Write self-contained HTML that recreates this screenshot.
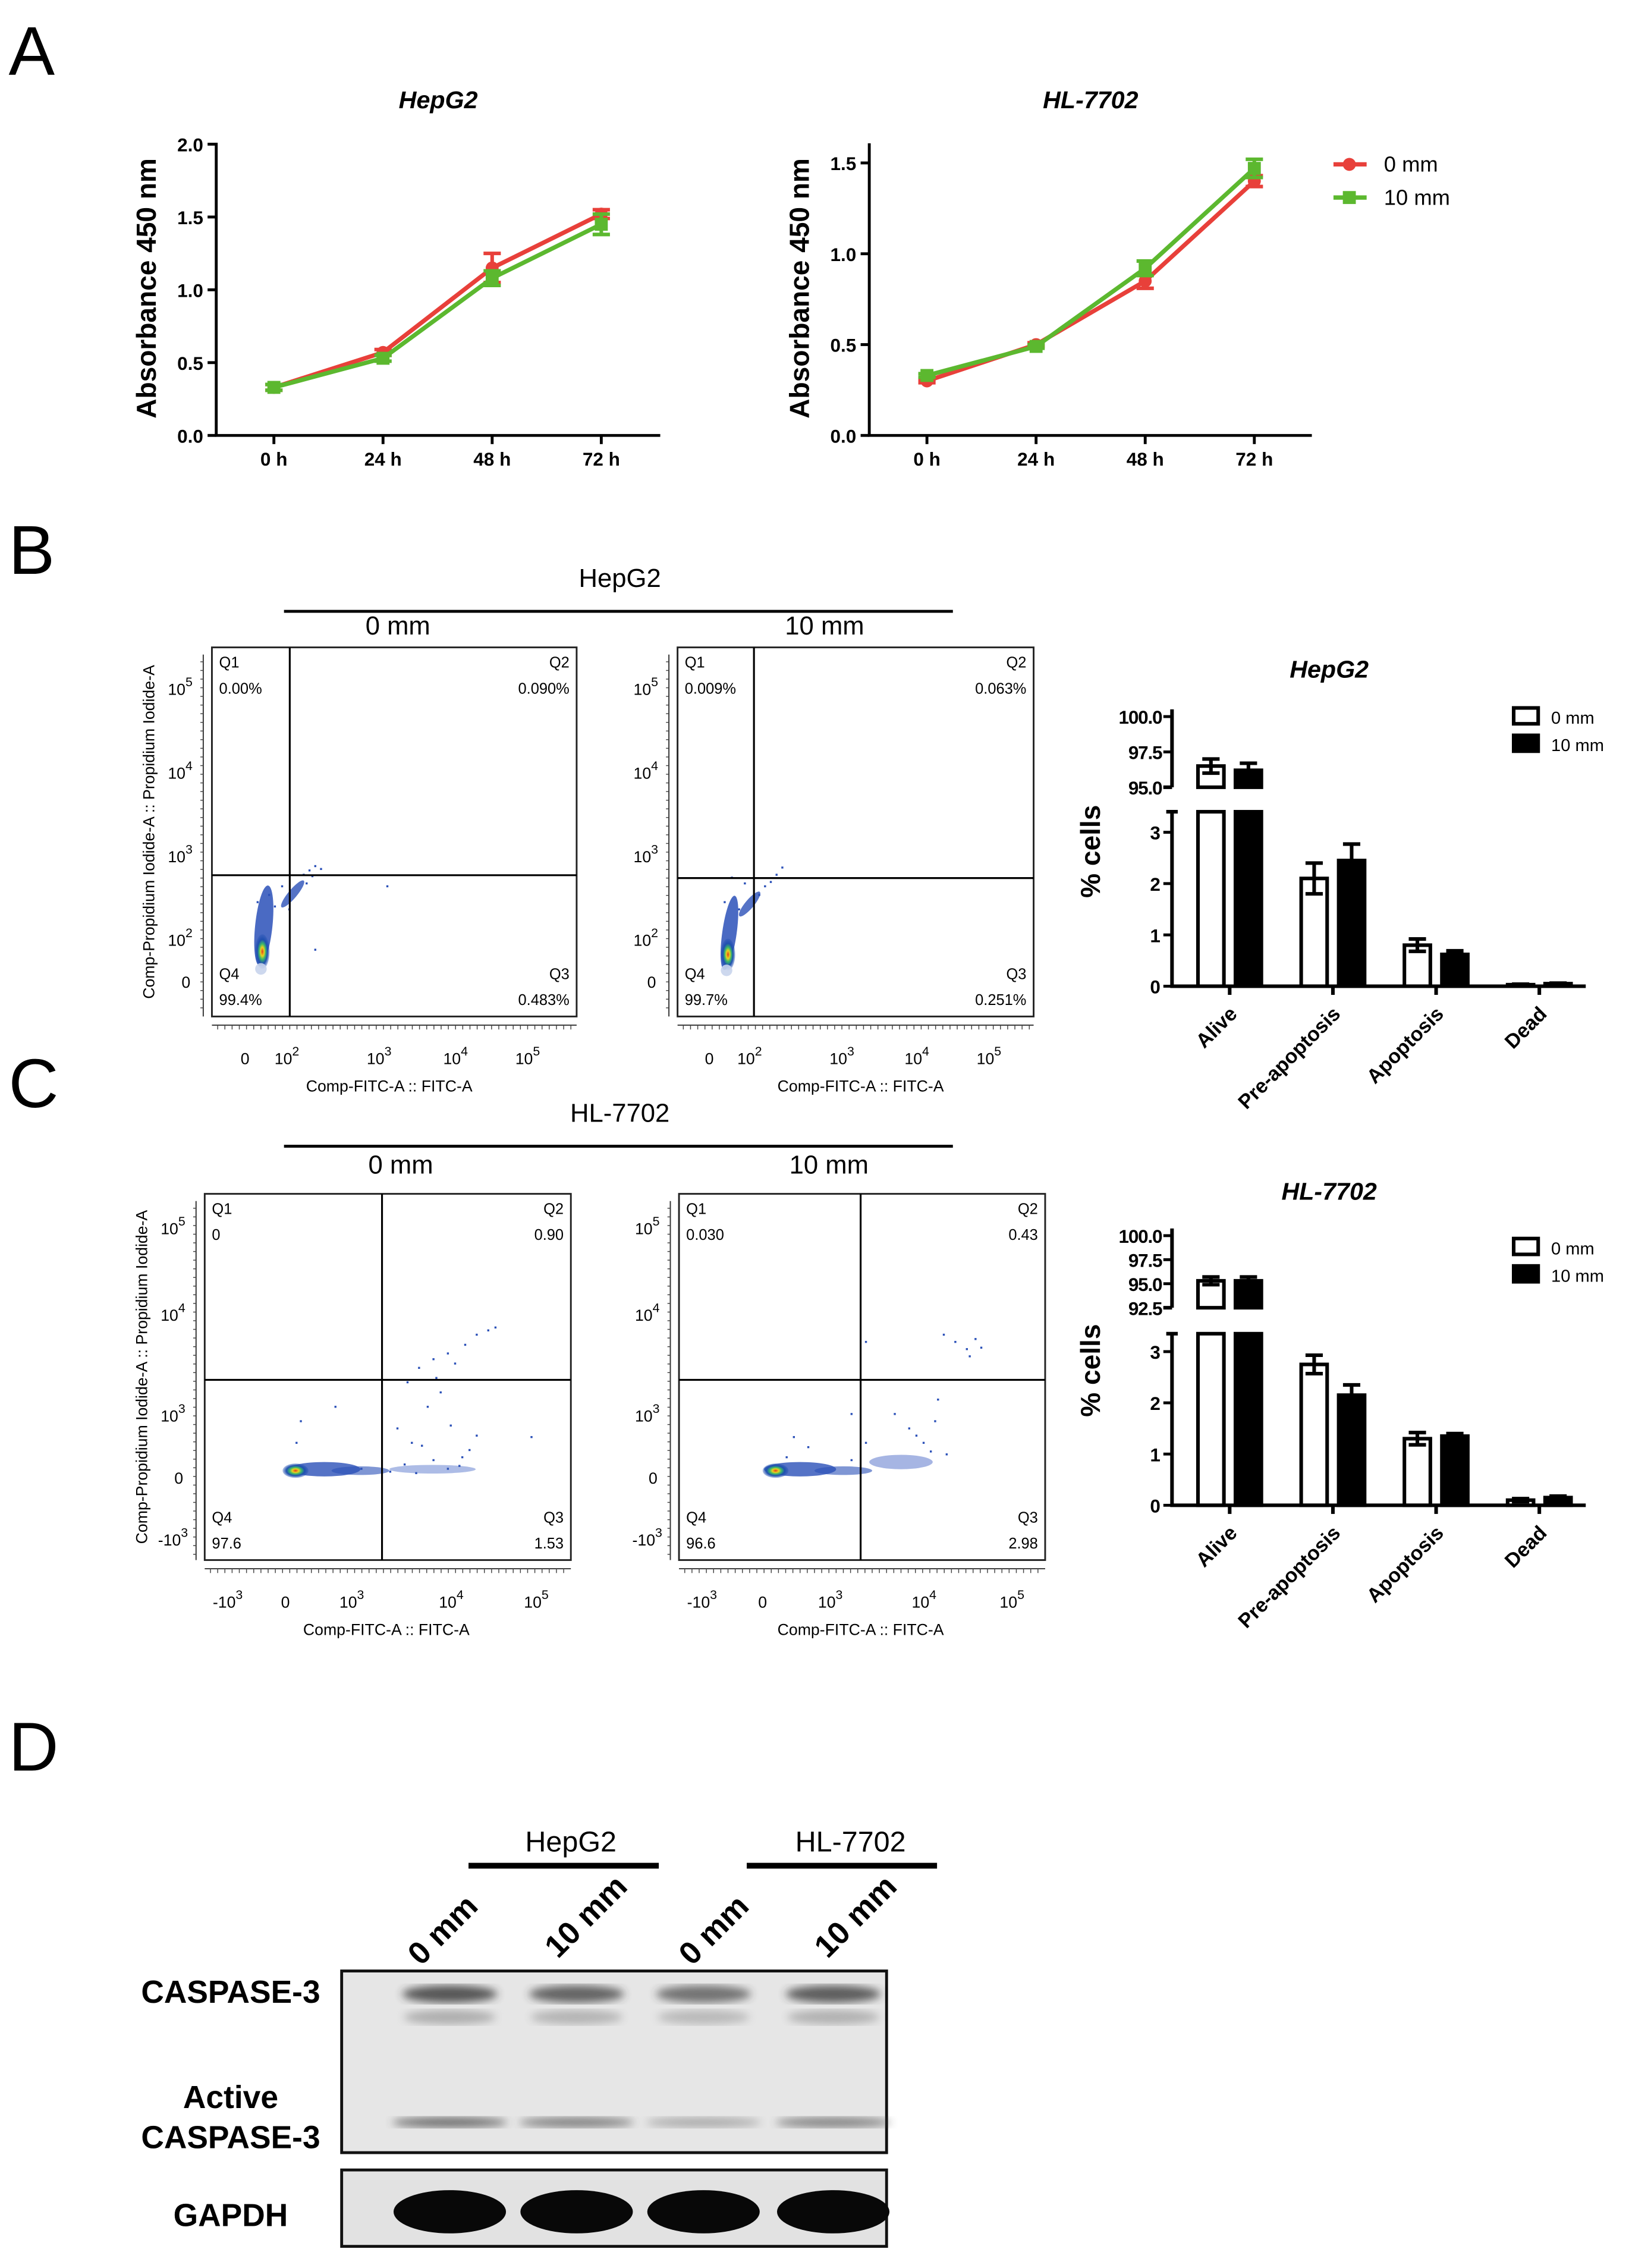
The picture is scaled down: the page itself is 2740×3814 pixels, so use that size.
<!DOCTYPE html>
<html><head><meta charset="utf-8">
<style>
html,body{margin:0;padding:0;background:#fff;}
svg{display:block;font-family:"Liberation Sans",Arial,sans-serif;}
</style></head>
<body>
<svg id="fig" width="2740" height="3814" viewBox="0 0 1130 1573" preserveAspectRatio="none" xmlns="http://www.w3.org/2000/svg">
<defs>
<radialGradient id="blob" cx="50%" cy="50%" r="50%">
<stop offset="0%" stop-color="#e23b1c"/><stop offset="25%" stop-color="#e8d21e"/><stop offset="45%" stop-color="#3bb86a"/><stop offset="70%" stop-color="#1f4fb0"/><stop offset="100%" stop-color="#1f4fb0" stop-opacity="0.3"/>
</radialGradient>
<filter id="blur"><feGaussianBlur stdDeviation="3"/></filter>
</defs>
<text x="6" y="52" font-size="48">A</text>
<text x="6" y="398" font-size="48">B</text>
<text x="6" y="768" font-size="48">C</text>
<text x="6" y="1228" font-size="48">D</text>
<g id="gA"></g>
<g id="gB"></g>
<g id="gC"></g>
<g id="gBar"></g>
<g id="gD"></g>
</svg>
<script>
// ---------- data ----------
const timeLabels = ["0 h","24 h","48 h","72 h"];
const hepRed = [0.33,0.57,1.15,1.52];
const hepRedErr = [0.02,0.02,0.10,0.03];
const hepGreen = [0.33,0.53,1.08,1.45];
const hepGreenErr = [0.02,0.02,0.05,0.07];
const hlRed = [0.30,0.50,0.85,1.40];
const hlRedErr = [0.01,0.01,0.04,0.03];
const hlGreen = [0.33,0.49,0.92,1.47];
const hlGreenErr = [0.01,0.01,0.04,0.05];
const hepTicks = [0,0.5,1.0,1.5,2.0];
const hlTicks = [0,0.5,1.0,1.5];

const barCats = ["Alive","Pre-apoptosis","Apoptosis","Dead"];
const hepBar0 = [96.5,2.1,0.8,0.03];
const hepBar0Err = [0.5,0.3,0.12,0.01];
const hepBar10 = [96.2,2.45,0.62,0.05];
const hepBar10Err = [0.5,0.32,0.07,0.01];
const hlBar0 = [95.3,2.75,1.3,0.1];
const hlBar0Err = [0.4,0.18,0.12,0.03];
const hlBar10 = [95.3,2.15,1.35,0.15];
const hlBar10Err = [0.4,0.2,0.05,0.03];

const flowQuadB0 = ["0.00%","0.090%","0.483%","99.4%"];
const flowQuadB10 = ["0.009%","0.063%","0.251%","99.7%"];
const flowQuadC0 = ["0","0.90","1.53","97.6"];
const flowQuadC10 = ["0.030","0.43","2.98","96.6"];

const NS="http://www.w3.org/2000/svg";
function mk(parent,tag,attrs,text){const e=document.createElementNS(NS,tag);for(const k in attrs)e.setAttribute(k,attrs[k]);if(text!==undefined)e.textContent=text;parent.appendChild(e);return e;}

// ---------- Panel A ----------
function lineChart(g,cfg){
  const {x0,x1,y0,yTop,vmax,axTop,cats,ticks,series,title,name}=cfg;
  const ys=v=>y0-(v/vmax)*(y0-yTop);
  const xs=i=>x0+40+i*75.7;
  let t=mk(g,'text',{x:(x0+x1)/2,y:75,'font-size':17,'font-weight':'bold','font-style':'italic','text-anchor':'middle'},title);
  
  
  let ax=mk(g,'path',{d:`M${x0},${ys(axTop)-1}V${y0}H${x1}`,stroke:'#000','stroke-width':2,fill:'none'});
  
  
  ticks.forEach(v=>{
    mk(g,'line',{x1:x0-6,x2:x0,y1:ys(v),y2:ys(v),stroke:'#000','stroke-width':2});
    let tl=mk(g,'text',{x:x0-9,y:ys(v)+5,'font-size':13,'font-weight':'bold','text-anchor':'end'},v.toFixed(1));
    
    
  });
  cats.forEach((c,i)=>{
    mk(g,'line',{x1:xs(i),x2:xs(i),y1:y0,y2:y0+6,stroke:'#000','stroke-width':2});
    let tl=mk(g,'text',{x:xs(i),y:y0+21,'font-size':13,'font-weight':'bold','text-anchor':'middle'},c);
    
    
  });
  let yl=mk(g,'text',{x:0,y:0,'font-size':19,'font-weight':'bold','text-anchor':'middle',transform:`translate(${x0-42},200) rotate(-90)`},'Absorbance 450 nm');
  
  
  series.forEach(s=>{
    const sg=mk(g,'g',{});
    
    
    mk(sg,'polyline',{points:s.vals.map((v,i)=>xs(i)+','+ys(v)).join(' '),fill:'none',stroke:s.color,'stroke-width':3});
    s.vals.forEach((v,i)=>{
      const e=s.err[i];
      mk(sg,'path',{d:`M${xs(i)},${ys(v+e)}V${ys(v-e)}M${xs(i)-6},${ys(v+e)}H${xs(i)+6}M${xs(i)-6},${ys(v-e)}H${xs(i)+6}`,stroke:s.color,'stroke-width':2.5,fill:'none'});
      let m = s.shape==='circle'? mk(sg,'circle',{cx:xs(i),cy:ys(v),r:4.5,fill:s.color}) : mk(sg,'rect',{x:xs(i)-4.5,y:ys(v)-4.5,width:9,height:9,fill:s.color});
      
      
    });
  });
}
const gA=document.getElementById('gA');
lineChart(gA,{x0:150,x1:458,y0:302,yTop:100,vmax:2.0,axTop:2.0,cats:timeLabels,ticks:hepTicks,title:'HepG2',name:'hepg2-growth',
  series:[{key:'0mm',vals:hepRed,err:hepRedErr,color:'#e8403a',shape:'circle'},{key:'10mm',vals:hepGreen,err:hepGreenErr,color:'#5cb82f',shape:'square'}]});
lineChart(gA,{x0:603,x1:910,y0:302,yTop:113,vmax:1.5,axTop:1.6,cats:timeLabels,ticks:hlTicks,title:'HL-7702',name:'hl7702-growth',
  series:[{key:'0mm',vals:hlRed,err:hlRedErr,color:'#e8403a',shape:'circle'},{key:'10mm',vals:hlGreen,err:hlGreenErr,color:'#5cb82f',shape:'square'}]});
[['0 mm','#e8403a','circle',114],['10 mm','#5cb82f','square',137]].forEach(l=>{
  const lg=mk(gA,'g',{});
  
  
  mk(lg,'line',{x1:925,x2:948,y1:l[3],y2:l[3],stroke:l[1],'stroke-width':3});
  if(l[2]==='circle')mk(lg,'circle',{cx:936,cy:l[3],r:4.5,fill:l[1]});else mk(lg,'rect',{x:931.5,y:l[3]-4.5,width:9,height:9,fill:l[1]});
  mk(lg,'text',{x:960,y:l[3]+5,'font-size':15},l[0]);
});

// ---------- Flow plots ----------
function flowHeader(g,y,title,name){
  let t=mk(g,'text',{x:430,y:y,'font-size':18,'text-anchor':'middle'},title);
  
  
  mk(g,'line',{x1:197,x2:661,y1:y+17,y2:y+17,stroke:'#000','stroke-width':2});
}
function sup(g,x,y,base,exp,fs){
  const t=mk(g,'text',{x:x,y:y,'font-size':fs,'text-anchor':'middle'});
  mk(t,'tspan',{},base);mk(t,'tspan',{dy:-6,'font-size':fs*0.8},exp);
  return t;
}
function flowPlot(g,o){
  const {bx,by,bw,bh,gx,gy,q,ylabs,xlabs,name,blobs,dots,xt}=o;
  const pg=mk(g,'g',{});
  
  
  mk(pg,'rect',{x:bx,y:by,width:bw,height:bh,fill:'none',stroke:'#222','stroke-width':1.2});
  blobs.forEach(b=>{mk(pg,'ellipse',{cx:b[0],cy:b[1],rx:b[2],ry:b[3],fill:b[4]||'url(#blob)',opacity:b[5]||1,transform:b[6]?`rotate(${b[6]} ${b[0]} ${b[1]})`:''});});
  dots.forEach(d=>mk(pg,'rect',{x:d[0],y:d[1],width:1.4,height:1.4,fill:'#2a50b8'}));
  mk(pg,'line',{x1:gx,x2:gx,y1:by,y2:by+bh,stroke:'#000','stroke-width':1.3});
  mk(pg,'line',{x1:bx,x2:bx+bw,y1:gy,y2:gy,stroke:'#000','stroke-width':1.3});
  const fs=10.5;
  mk(pg,'text',{x:bx+5,y:by+14,'font-size':fs},'Q1');
  mk(pg,'text',{x:bx+5,y:by+32,'font-size':fs},q[0]);
  mk(pg,'text',{x:bx+bw-5,y:by+14,'font-size':fs,'text-anchor':'end'},'Q2');
  mk(pg,'text',{x:bx+bw-5,y:by+32,'font-size':fs,'text-anchor':'end'},q[1]);
  mk(pg,'text',{x:bx+5,y:by+bh-26,'font-size':fs},'Q4');
  mk(pg,'text',{x:bx+5,y:by+bh-8,'font-size':fs},q[3]);
  mk(pg,'text',{x:bx+bw-5,y:by+bh-26,'font-size':fs,'text-anchor':'end'},'Q3');
  mk(pg,'text',{x:bx+bw-5,y:by+bh-8,'font-size':fs,'text-anchor':'end'},q[2]);
  mk(pg,'line',{x1:bx-6,x2:bx-6,y1:by+5,y2:by+bh,stroke:'#333','stroke-width':0.8});
  mk(pg,'line',{x1:bx,x2:bx+bw,y1:by+bh+6,y2:by+bh+6,stroke:'#333','stroke-width':0.8});
  for(let yy=by+10;yy<by+bh;yy+=6)mk(pg,'line',{x1:bx-8,x2:bx-6,y1:yy,y2:yy,stroke:'#444','stroke-width':0.6});
  for(let xx=bx+4;xx<bx+bw;xx+=5)mk(pg,'line',{x1:xx,x2:xx,y1:by+bh+6,y2:by+bh+9,stroke:'#444','stroke-width':0.6});
  ylabs.forEach(l=>{ if(l[2]) sup(pg,bx-22,l[0],l[1],l[2],11); else mk(pg,'text',{x:bx-18,y:l[0],'font-size':11,'text-anchor':'middle'},l[1]); });
  xlabs.forEach(l=>{ if(l[2]) sup(pg,l[0],by+bh+33,l[1],l[2],11); else mk(pg,'text',{x:l[0],y:by+bh+33,'font-size':11,'text-anchor':'middle'},l[1]); });
  let xt1=mk(pg,'text',{x:xt,y:by+bh+52,'font-size':11,'text-anchor':'middle'},'Comp-FITC-A :: FITC-A');
  
  
  if(o.ytitle){let yt=mk(pg,'text',{x:0,y:0,'font-size':11,'text-anchor':'middle',transform:`translate(${bx-40},${by+bh/2}) rotate(-90)`},'Comp-Propidium Iodide-A :: Propidium Iodide-A');
  
  }
}
const gB=document.getElementById('gB');
flowHeader(gB,407,'HepG2','hepg2');
mk(gB,'text',{x:276,y:440,'font-size':18,'text-anchor':'middle'},'0 mm');
mk(gB,'text',{x:572,y:440,'font-size':18,'text-anchor':'middle'},'10 mm');
const yLogB=[[482,'10','5'],[540,'10','4'],[598,'10','3'],[656,'10','2'],[685,'0']];
flowPlot(gB,{bx:147,by:449,bw:253,bh:256,gx:201,gy:607,q:flowQuadB0,ylabs:yLogB,
 xlabs:[[170,'0'],[199,'10','2'],[263,'10','3'],[316,'10','4'],[366,'10','5']],name:'flow-hepg2-0mm',ytitle:true,xt:270,
 blobs:[[183,642,6,28,'#2a50b8',0.85,6],[182,660,5,12],[181,672,4,4,'#c8d4ec',0.9],[203,620,3,12,'#2a50b8',0.8,40]],
 dots:[[210,606],[214,603],[218,600],[222,602],[212,612],[216,607],[268,614],[218,658],[200,630],[195,614],[178,625],[190,628],[186,620]]});
flowPlot(gB,{bx:470,by:449,bw:247,bh:256,gx:523,gy:609,q:flowQuadB10,ylabs:yLogB,
 xlabs:[[492,'0'],[520,'10','2'],[584,'10','3'],[636,'10','4'],[686,'10','5']],name:'flow-hepg2-10mm',ytitle:false,xt:597,
 blobs:[[506,647,5,26,'#2a50b8',0.85,8],[505,662,5,11],[504,673,4,4,'#c8d4ec',0.9],[520,627,3,11,'#2a50b8',0.8,40]],
 dots:[[507,608],[530,614],[534,611],[538,606],[542,601],[526,620],[516,612],[502,625],[512,630]]});

const gC=document.getElementById('gC');
flowHeader(gC,778,'HL-7702','hl7702');
mk(gC,'text',{x:278,y:814,'font-size':18,'text-anchor':'middle'},'0 mm');
mk(gC,'text',{x:575,y:814,'font-size':18,'text-anchor':'middle'},'10 mm');
const yLogC=[[856,'10','5'],[916,'10','4'],[986,'10','3'],[1029,'0'],[1072,'-10','3']];
const dots3=[[282,958],[290,948],[300,942],[310,938],[322,932],[330,925],[338,922],[343,920],[275,990],[285,1000],[296,975],[305,965],[312,988],[320,1010],[280,1015],[300,1012],[325,1005],[330,995],[270,1020],[250,1018],[232,975],[208,985],[205,1000],[368,996],[315,945],[302,955],[292,1002],[310,1018],[318,1016],[288,1021]];
flowPlot(gC,{bx:142,by:828,bw:254,bh:254,gx:265,gy:957,q:flowQuadC0,ylabs:yLogC,
 xlabs:[[158,'-10','3'],[198,'0'],[244,'10','3'],[313,'10','4'],[372,'10','5']],name:'flow-hl7702-0mm',ytitle:true,xt:268,
 blobs:[[225,1019,25,5,'#2a50b8',0.8],[205,1020,9,5],[250,1020,20,3,'#2a50b8',0.6],[300,1019,30,3,'#4a6ac8',0.45]],
 dots:dots3});
const dots4=[[654,925],[662,930],[670,935],[676,928],[680,934],[672,940],[600,1000],[590,1012],[620,980],[630,990],[635,995],[640,1000],[650,970],[648,985],[645,1006],[656,1008],[600,930],[590,980],[550,996],[560,1003],[545,1010]];
flowPlot(gC,{bx:471,by:828,bw:254,bh:254,gx:597,gy:957,q:flowQuadC10,ylabs:yLogC,
 xlabs:[[487,'-10','3'],[529,'0'],[576,'10','3'],[641,'10','4'],[702,'10','5']],name:'flow-hl7702-10mm',ytitle:false,xt:597,
 blobs:[[555,1019,25,5,'#2a50b8',0.8],[538,1020,9,5],[585,1020,20,3,'#2a50b8',0.6],[625,1014,22,5,'#3a5cc0',0.45]],
 dots:dots4});

// ---------- Bar charts ----------
function barChart(g,o){
  const {ax,y0,uTop,uBot,uMin,uMax,uTicks,lTop,lMax,cats,v0,e0,v1,e1,title,ty,name,legY}=o;
  const xr=1100, step=71.6, cx=i=>ax+40+i*step;
  const yl=v=>y0-v*(y0-lTop)/lMax;
  const yu=v=>uBot-(v-uMin)*(uBot-uTop)/(uMax-uMin);
  const bg=mk(g,'g',{});
  
  
  mk(bg,'text',{x:922,y:ty,'font-size':17,'font-weight':'bold','font-style':'italic','text-anchor':'middle'},title);
  mk(bg,'path',{d:`M${ax},${uTop-5}V${uBot}M${ax},${lTop}V${y0}H${xr}`,stroke:'#000','stroke-width':2.5,fill:'none'});
  mk(bg,'line',{x1:ax-6,x2:ax,y1:uBot,y2:uBot,stroke:'#000','stroke-width':2.5});
  mk(bg,'line',{x1:ax-4,x2:ax+4,y1:lTop,y2:lTop,stroke:'#000','stroke-width':2.5});
  uTicks.forEach(v=>{mk(bg,'line',{x1:ax-6,x2:ax,y1:yu(v),y2:yu(v),stroke:'#000','stroke-width':2});
    mk(bg,'text',{x:ax-7,y:yu(v)+5,'font-size':13,'font-weight':'bold','text-anchor':'end','letter-spacing':'-0.5'},v.toFixed(1));});
  [0,1,2,3].forEach(v=>{mk(bg,'line',{x1:ax-6,x2:ax,y1:yl(v),y2:yl(v),stroke:'#000','stroke-width':2});
    mk(bg,'text',{x:ax-8,y:yl(v)+5,'font-size':13,'font-weight':'bold','text-anchor':'end'},String(v));});
  mk(bg,'text',{x:0,y:0,'font-size':19,'font-weight':'bold','text-anchor':'middle',transform:`translate(${ax-50},${(y0+uTop)/2}) rotate(-90)`},'% cells');
  cats.forEach((c,i)=>{
    mk(bg,'line',{x1:cx(i),x2:cx(i),y1:y0,y2:y0+6,stroke:'#000','stroke-width':2.5});
    let tl=mk(bg,'text',{x:0,y:0,'font-size':14,'font-weight':'bold','text-anchor':'end',transform:`translate(${cx(i)+6},${y0+20}) rotate(-45)`},c);
    
    
    [[v0,e0,-13,'#fff'],[v1,e1,13,'#000']].forEach(s=>{
      const v=s[0][i],e=s[1][i],x=cx(i)+s[2]-9;
      if(v>uMin){
        let b1=mk(bg,'rect',{x:x,y:yu(v),width:18,height:uBot-yu(v),fill:s[3],stroke:'#000','stroke-width':2.5});
        
        
        mk(bg,'rect',{x:x,y:lTop,width:18,height:y0-lTop,fill:s[3],stroke:'#000','stroke-width':2.5});
        mk(bg,'path',{d:`M${x+9},${yu(v-e)}V${yu(v+e)}M${x+3},${yu(v+e)}H${x+15}M${x+3},${yu(v-e)}H${x+15}`,stroke:'#000','stroke-width':2.5,fill:'none'});
      } else {
        let b=mk(bg,'rect',{x:x,y:yl(v),width:18,height:y0-yl(v),fill:s[3],stroke:'#000','stroke-width':2.5});
        
        
        mk(bg,'path',{d:`M${x+9},${yl(v-e)}V${yl(v+e)}M${x+3},${yl(v+e)}H${x+15}M${x+3},${yl(v-e)}H${x+15}`,stroke:'#000','stroke-width':2.5,fill:'none'});
      }
    });
  });
  [['0 mm','#fff',legY],['10 mm','#000',legY+19]].forEach(l=>{
    const lg=mk(bg,'g',{});
    
    
    mk(lg,'rect',{x:1050,y:l[2]-6,width:17,height:11,fill:l[1],stroke:'#000','stroke-width':2.5});
    mk(lg,'text',{x:1076,y:l[2]+5,'font-size':12},l[0]);
  });
}
const gBar=document.getElementById('gBar');
barChart(gBar,{ax:813,y0:684,uTop:497,uBot:546,uMin:95,uMax:100,uTicks:[100,97.5,95],lTop:563,lMax:3.4,cats:barCats,
 v0:hepBar0,e0:hepBar0Err,v1:hepBar10,e1:hepBar10Err,title:'HepG2',ty:470,name:'hepg2-apoptosis-bars',legY:497});
barChart(gBar,{ax:813,y0:1044,uTop:857,uBot:907,uMin:92.5,uMax:100,uTicks:[100,97.5,95,92.5],lTop:925,lMax:3.35,cats:barCats,
 v0:hlBar0,e0:hlBar0Err,v1:hlBar10,e1:hlBar10Err,title:'HL-7702',ty:832,name:'hl7702-apoptosis-bars',legY:865});

// ---------- Western blot ----------
const lanes=[312,400,488,578];
const casBand=[1.0,0.9,0.8,0.95];
const activeBand=[0.75,0.7,0.45,0.65];
const gapdhBand=[1,1,1,1];
const gD=document.getElementById('gD');
mk(gD,'text',{x:396,y:1284,'font-size':20,'text-anchor':'middle'},'HepG2');
mk(gD,'line',{x1:325,x2:457,y1:1294,y2:1294,stroke:'#000','stroke-width':4});
mk(gD,'text',{x:590,y:1284,'font-size':20,'text-anchor':'middle'},'HL-7702');
mk(gD,'line',{x1:518,x2:650,y1:1294,y2:1294,stroke:'#000','stroke-width':4});
[['0 mm',292,1364],['10 mm',387,1359],['0 mm',480,1364],['10 mm',574,1359]].forEach(l=>{
  let t=mk(gD,'text',{x:0,y:0,'font-size':22,'font-weight':'bold',transform:`translate(${l[1]},${l[2]}) rotate(-45)`},l[0]);
  
  
});
mk(gD,'rect',{x:237,y:1367,width:378,height:126,fill:'#e6e6e6',stroke:'#111','stroke-width':2});
mk(gD,'rect',{x:237,y:1505,width:378,height:53,fill:'#e2e2e2',stroke:'#111','stroke-width':2});
lanes.forEach((x,i)=>{
  let b=mk(gD,'ellipse',{cx:x,cy:1383,rx:33,ry:6,fill:'#333',opacity:0.8*casBand[i],filter:'url(#blur)'});
  
  
  mk(gD,'ellipse',{cx:x,cy:1399,rx:32,ry:5,fill:'#777',opacity:0.5*casBand[i],filter:'url(#blur)'});
  let a=mk(gD,'ellipse',{cx:x,cy:1472,rx:40,ry:3.5,fill:'#444',opacity:casBand[i]*activeBand[i],filter:'url(#blur)'});
  
  
  let gp=mk(gD,'ellipse',{cx:x,cy:1534,rx:39,ry:15,fill:'#080808',opacity:gapdhBand[i]});
  
  
});
mk(gD,'text',{x:160,y:1389,'font-size':22,'font-weight':'bold','text-anchor':'middle'},'CASPASE-3');
mk(gD,'text',{x:160,y:1462,'font-size':22,'font-weight':'bold','text-anchor':'middle'},'Active');
mk(gD,'text',{x:160,y:1490,'font-size':22,'font-weight':'bold','text-anchor':'middle'},'CASPASE-3');
mk(gD,'text',{x:160,y:1544,'font-size':22,'font-weight':'bold','text-anchor':'middle'},'GAPDH');
</script>
</body></html>
